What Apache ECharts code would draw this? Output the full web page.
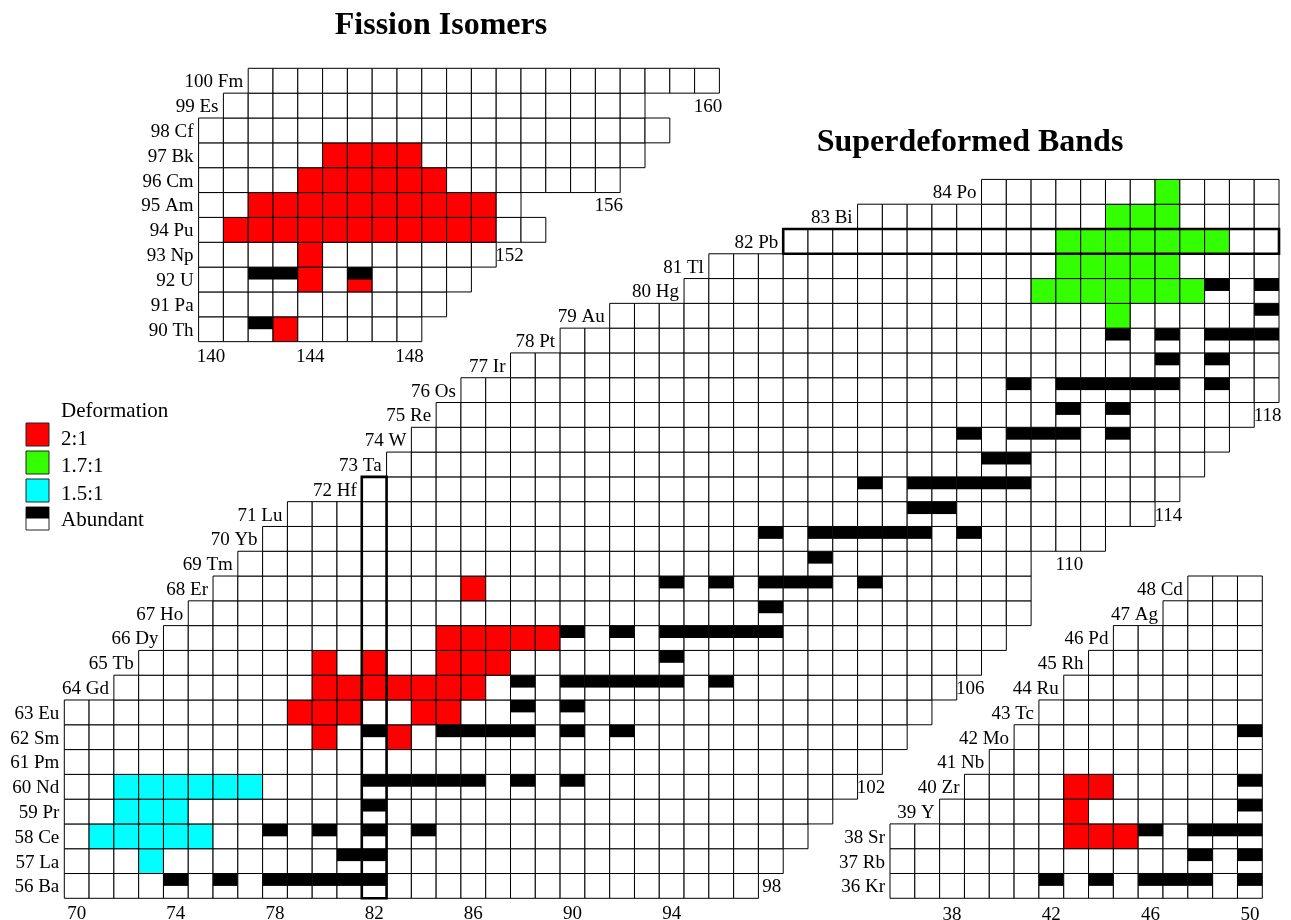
<!DOCTYPE html>
<html><head><meta charset="utf-8">
<script src="https://cdn.jsdelivr.net/npm/echarts@6/dist/echarts.min.js"></script>
<style>html,body{margin:0;padding:0;background:#fff}#c{width:1291px;height:920px}</style>
</head><body><div id="c"></div>
<script>
// ================= DATA =================
// rows: [Z, symbol, first N, last N]
const mainRows = [
 [56,'Ba',70,97],[57,'La',70,98],[58,'Ce',70,99],[59,'Pr',70,100],[60,'Nd',70,101],
 [61,'Pm',70,102],[62,'Sm',70,103],[63,'Eu',70,104],[64,'Gd',72,105],[65,'Tb',73,106],
 [66,'Dy',74,107],[67,'Ho',75,108],[68,'Er',76,108],[69,'Tm',77,108],[70,'Yb',78,111],
 [71,'Lu',79,113],[72,'Hf',82,114],[73,'Ta',83,115],[74,'W',84,116],[75,'Re',85,117],
 [76,'Os',86,118],[77,'Ir',88,118],[78,'Pt',90,118],[79,'Au',92,118],[80,'Hg',95,118],
 [81,'Tl',96,118],[82,'Pb',99,118],[83,'Bi',102,118],[84,'Po',107,118]
];
// deformation 2:1  [Z, [N...]]
const mainRatio2 = [
 [62,[80,83]],[63,[79,80,81,84,85]],[64,[80,81,82,83,84,85,86]],
 [65,[80,82,85,86,87]],[66,[85,86,87,88,89]],[68,[86]]
];
// deformation 1.7:1
const mainRatio17 = [
 [79,[112]],[80,[109,110,111,112,113,114,115]],[81,[110,111,112,113,114]],
 [82,[110,111,112,113,114,115,116]],[83,[112,113,114]],[84,[114]]
];
// deformation 1.5:1
const mainRatio15 = [
 [57,[73]],[58,[71,72,73,74,75]],[59,[72,73,74]],[60,[72,73,74,75,76,77]]
];
// abundant isotopes
const mainAbundant = [
 [56,[74,76,78,79,80,81,82]],[57,[81,82]],[58,[78,80,82,84]],[59,[82]],
 [60,[82,83,84,85,86,88,90]],[62,[82,85,86,87,88,90,92]],[63,[88,90]],
 [64,[88,90,91,92,93,94,96]],[65,[94]],[66,[90,92,94,95,96,97,98]],[67,[98]],
 [68,[94,96,98,99,100,102]],[69,[100]],[70,[98,100,101,102,103,104,106]],
 [71,[104,105]],[72,[102,104,105,106,107,108]],[73,[107,108]],
 [74,[106,108,109,110,112]],[75,[110,112]],[76,[108,110,111,112,113,114,116]],
 [77,[114,116]],[78,[112,114,116,117,118]],[79,[118]],[80,[116,118]]
];
const mainEdgeLabels = [[98,56],[102,60],[106,64],[110,69],[114,71],[118,75]];
const mainTicks = [70,74,78,82,86,90,94];
// magic-number outlines [N first, Z first, N last, Z last]
const magicBoxes = [[82,56,82,72],[99,82,118,82]];

const fisRows = [
 [90,'Th',140,148],[91,'Pa',140,149],[92,'U',140,150],[93,'Np',140,151],
 [94,'Pu',140,153],[95,'Am',140,152],[96,'Cm',140,156],[97,'Bk',140,157],
 [98,'Cf',140,158],[99,'Es',141,157],[100,'Fm',142,160]
];
const fisRatio2 = [
 [90,[143]],[92,[144,146]],[93,[144]],
 [94,[141,142,143,144,145,146,147,148,149,150,151]],
 [95,[142,143,144,145,146,147,148,149,150,151]],
 [96,[144,145,146,147,148,149]],[97,[145,146,147,148]]
];
const fisAbundant = [[90,[142]],[92,[142,143,146]]];
const fisEdgeLabels = [[152,93],[156,95],[160,99]];
const fisTicks = [140,144,148];

const lightRows = [
 [36,'Kr',36,50],[37,'Rb',36,50],[38,'Sr',36,50],[39,'Y',38,50],[40,'Zr',39,50],
 [41,'Nb',40,50],[42,'Mo',41,50],[43,'Tc',42,50],[44,'Ru',43,50],[45,'Rh',44,50],
 [46,'Pd',45,50],[47,'Ag',47,50],[48,'Cd',48,50]
];
const lightRatio2 = [[38,[43,44,45]],[39,[43]],[40,[43,44]]];
const lightAbundant = [[36,[42,44,46,47,48,50]],[37,[48,50]],[38,[46,48,49,50]],[39,[50]],[40,[50]],[42,[50]]];
const lightTicks = [38,42,46,50];

const legendItems = ['2:1','1.7:1','1.5:1','Abundant'];

// ================= BUILD =================
const FONT = "'Liberation Serif','Times New Roman',serif";
const COLORS = ['#ffffff','#ff0000','#33ff00','#00ffff'];

function has(list, Z, N){
  for (const r of list) if (r[0]===Z && r[1].indexOf(N)>=0) return true;
  return false;
}
function buildCells(rows, r2, r17, r15, ab){
  const out=[];
  rows.forEach(r=>{
    const Z=r[0];
    for(let N=r[2]; N<=r[3]; N++){
      let kind=0;
      if(has(r2,Z,N)) kind=1; else if(has(r17,Z,N)) kind=2; else if(has(r15,Z,N)) kind=3;
      out.push([N,Z,kind,has(ab,Z,N)?1:0]);
    }
  });
  return out;
}
const mainCells = buildCells(mainRows, mainRatio2, mainRatio17, mainRatio15, mainAbundant);
const fisCells = buildCells(fisRows, fisRatio2, [], [], fisAbundant);
const lightCells = buildCells(lightRows, lightRatio2, [], [], lightAbundant);

function cellRender(params, api){
  const N=api.value(0), Z=api.value(1), kind=api.value(2), ab=api.value(3);
  const a=api.coord([N-0.5, Z+0.5]), b=api.coord([N+0.5, Z-0.5]);
  const x=a[0], y=a[1], w=b[0]-a[0], h=b[1]-a[1];
  const ch=[{type:'rect', shape:{x:x,y:y,width:w,height:h}, style:{fill:COLORS[kind], stroke:'#000', lineWidth:1}}];
  if(ab) ch.push({type:'rect', shape:{x:x,y:y,width:w,height:h*0.5}, style:{fill:'#000'}});
  return {type:'group', children:ch};
}
function rowLabelSeries(rows, idx){
  return {
    type:'custom', xAxisIndex:idx, yAxisIndex:idx, silent:true,
    data: rows.map(r=>[r[2], r[0]]), encode:{x:0,y:1},
    renderItem:function(params, api){
      const r=rows[params.dataIndex];
      const p=api.coord([r[2]-0.5, r[0]]);
      return {type:'text', x:p[0]-5, y:p[1]+1.5,
        style:{text:r[0]+' '+r[1], font:'19px '+FONT, fill:'#000', align:'right', verticalAlign:'middle'}};
    }
  };
}
function edgeLabelSeries(list, idx){
  return {
    type:'custom', xAxisIndex:idx, yAxisIndex:idx, silent:true,
    data:list, encode:{x:0,y:1},
    renderItem:function(params, api){
      const p=api.coord([api.value(0), api.value(1)]);
      return {type:'text', x:p[0]+1, y:p[1]+1.5,
        style:{text:String(api.value(0)), font:'19px '+FONT, fill:'#000', align:'center', verticalAlign:'middle'}};
    }
  };
}
function cellSeries(cells, idx){
  return {type:'custom', xAxisIndex:idx, yAxisIndex:idx, silent:true, data:cells, encode:{x:0,y:1}, renderItem:cellRender};
}
function xAx(idx, min, max, ticks, margin){
  return {type:'value', gridIndex:idx, min:min, max:max,
    axisLine:{show:false}, axisTick:{show:false}, splitLine:{show:false},
    axisLabel:{customValues:ticks, margin:margin, fontSize:19, fontFamily:FONT, color:'#000'}};
}
function yAx(idx, min, max){
  return {type:'value', gridIndex:idx, min:min, max:max,
    axisLine:{show:false}, axisTick:{show:false}, splitLine:{show:false}, axisLabel:{show:false}};
}

const S = 24.79;
const option = {
  animation:false,
  backgroundColor:'#fff',
  grid:[
    {left:64.3, top:179.4, width:49*S, height:29*S, containLabel:false, outerBoundsMode:'none'},
    {left:198.6, top:68.3, width:21*24.8, height:11*24.85, containLabel:false, outerBoundsMode:'none'},
    {left:890, top:576, width:15*24.82, height:13*S, containLabel:false, outerBoundsMode:'none'}
  ],
  xAxis:[ xAx(0,69.5,118.5,mainTicks,6), xAx(1,139.5,160.5,fisTicks,6), xAx(2,35.5,50.5,lightTicks,7) ],
  yAxis:[ yAx(0,55.5,84.5), yAx(1,89.5,100.5), yAx(2,35.5,48.5) ],
  series:[
    cellSeries(mainCells,0), cellSeries(fisCells,1), cellSeries(lightCells,2),
    {
      type:'custom', xAxisIndex:0, yAxisIndex:0, silent:true,
      data:magicBoxes, encode:{x:[0,2], y:[1,3]},
      renderItem:function(params, api){
        const a=api.coord([api.value(0)-0.5, api.value(3)+0.5]);
        const b=api.coord([api.value(2)+0.5, api.value(1)-0.5]);
        return {type:'rect', shape:{x:a[0],y:a[1],width:b[0]-a[0],height:b[1]-a[1]},
          style:{fill:'none', stroke:'#000', lineWidth:2.6}};
      }
    },
    rowLabelSeries(mainRows,0), rowLabelSeries(fisRows,1), rowLabelSeries(lightRows,2),
    edgeLabelSeries(mainEdgeLabels,0), edgeLabelSeries(fisEdgeLabels,1)
  ],
  graphic:[
    {type:'text', x:441, y:26, style:{text:'Fission Isomers', font:'bold 32px '+FONT, fill:'#000', align:'center', verticalAlign:'middle'}},
    {type:'text', x:970, y:143, style:{text:'Superdeformed Bands', font:'bold 32px '+FONT, fill:'#000', align:'center', verticalAlign:'middle'}},
    {type:'text', x:61, y:411, style:{text:'Deformation', font:'21px '+FONT, fill:'#000', align:'left', verticalAlign:'middle'}},
    {type:'rect', shape:{x:26,y:423,width:23,height:23}, style:{fill:COLORS[1], stroke:'#222', lineWidth:1}},
    {type:'rect', shape:{x:26,y:451,width:23,height:23}, style:{fill:COLORS[2], stroke:'#222', lineWidth:1}},
    {type:'rect', shape:{x:26,y:479,width:23,height:23}, style:{fill:COLORS[3], stroke:'#222', lineWidth:1}},
    {type:'rect', shape:{x:26,y:507,width:23,height:23}, style:{fill:'#fff', stroke:'#222', lineWidth:1}},
    {type:'rect', shape:{x:26,y:507,width:23,height:11.5}, style:{fill:'#000'}},
    {type:'text', x:61, y:439, style:{text:legendItems[0], font:'21px '+FONT, fill:'#000', align:'left', verticalAlign:'middle'}},
    {type:'text', x:61, y:466, style:{text:legendItems[1], font:'21px '+FONT, fill:'#000', align:'left', verticalAlign:'middle'}},
    {type:'text', x:61, y:494, style:{text:legendItems[2], font:'21px '+FONT, fill:'#000', align:'left', verticalAlign:'middle'}},
    {type:'text', x:61, y:520, style:{text:legendItems[3], font:'21px '+FONT, fill:'#000', align:'left', verticalAlign:'middle'}}
  ]
};
const chart = echarts.init(document.getElementById('c'), null, {renderer:'canvas'});
chart.setOption(option);
</script>
</body></html>
